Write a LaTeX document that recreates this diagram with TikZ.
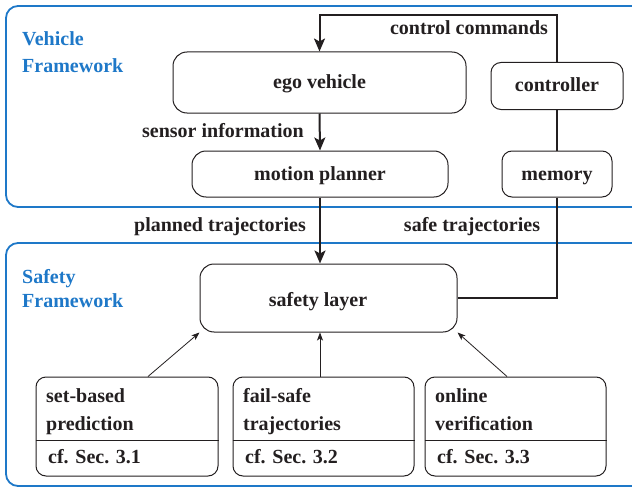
\documentclass[tikz,border=0pt]{standalone}
\usepackage{fontspec}
\setmainfont{Liberation Serif}
\usetikzlibrary{arrows.meta,calc}
\definecolor{ink}{HTML}{231F20}
\definecolor{frameblue}{HTML}{1E78C8}
\begin{document}
\begin{tikzpicture}[x=1pt,y=-1pt,
  font=\fontsize{20}{24}\selectfont\bfseries,
  box/.style={draw=ink, line width=1pt, rounded corners=14pt, inner sep=0pt, text=ink,
    text height=15.5pt, text depth=3.5pt},
  smallbox/.style={box, rounded corners=10pt},
  frame/.style={draw=frameblue, line width=1.8pt, rounded corners=12pt},
  flow/.style={draw=ink, line width=2pt, -{Stealth[length=13pt,width=11pt,inset=3pt]}},
  wire/.style={draw=ink, line width=2pt},
  feed/.style={draw=ink, line width=0.8pt, -{Stealth[length=8pt,width=6pt,inset=2pt]}},
  lbl/.style={text=ink, inner sep=0pt, anchor=base},
  txt/.style={text=ink, inner sep=0pt, anchor=base west},
  tag/.style={text=frameblue, inner sep=0pt, anchor=base west}]
\useasboundingbox (0,0) rectangle (632,487);
\clip (0,0) rectangle (632,487);

% framework outlines, open towards the right edge
\draw[frame] (6,6) rectangle (660,207);
\draw[frame] (6,243) rectangle (660,486);
\node[tag] (vf1) at (22,46) {Vehicle};
\node[tag] (vf2) at (22,73) {Framework};
\node[tag] (sf1) at (22,283) {Safety};
\node[tag] (sf2) at (22,307) {Framework};

% vehicle framework blocks
\node[box, minimum width=293, minimum height=61] (ego) at (319.5,82.5) {ego vehicle};
\node[smallbox, minimum width=132, minimum height=47] (ctrl) at (557,86) {controller};
\node[box, minimum width=256, minimum height=46] (motion) at (320,174) {motion planner};
\node[smallbox, minimum width=110, minimum height=46] (mem) at (557,174) {memory};

% safety layer
\node[box, minimum width=257, minimum height=68] (sl) at (328.5,298) {};
\node[lbl] (sltext) at (318,306) {safety layer};

% safety framework components
\node[smallbox, minimum width=182, minimum height=99] (sb) at (127,426.5) {};
\node[smallbox, minimum width=181, minimum height=99] (fs) at (323.5,426.5) {};
\node[smallbox, minimum width=181, minimum height=99] (ov) at (515.5,426.5) {};
\foreach \b in {sb,fs,ov}
  \draw[ink, line width=1pt] (\b.west |- 0,440) -- (\b.east |- 0,440);

\node[txt] (sb1) at (46,402) {set-based};
\node[txt] (sb2) at (46,430) {prediction};
\node[txt] (sb3) at (48,463) {cf. Sec. 3.1};
\node[txt] (fs1) at (243,402) {fail-safe};
\node[txt] (fs2) at (243,430) {trajectories};
\node[txt] (fs3) at (245,463) {cf. Sec. 3.2};
\node[txt] (ov1) at (435,402) {online};
\node[txt] (ov2) at (435,430) {verification};
\node[txt] (ov3) at (437,463) {cf. Sec. 3.3};

% main signal flow
\draw[flow] (ctrl.north) -- ++(0,-47) -| (ego.north);
\draw[flow] (ego.south) -- (motion.north);
\draw[flow] (motion.south) -- (motion.south |- sl.north);
\draw[wire] (ctrl.south) -- (mem.north);
\draw[wire] (mem.south) |- (sl.east);

\node[lbl] (cc) at (469,35) {control commands};
\node[lbl] (si) at (223,137) {sensor information};
\node[lbl] (pt) at (220,231) {planned trajectories};
\node[lbl] (st) at (472,231) {safe trajectories};

% inputs to the safety layer
\draw[feed] ([xshift=21pt]sb.north) -- (sl.south west);
\draw[feed] ([xshift=-3.5pt]fs.north) -- ([xshift=-3.5pt]fs.north |- sl.south);
\draw[feed] ([xshift=-8.5pt]ov.north) -- (sl.south east);
\end{tikzpicture}
\end{document}
